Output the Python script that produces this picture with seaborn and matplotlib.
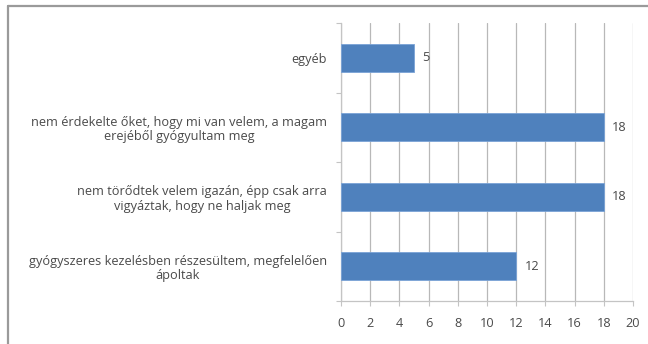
import matplotlib
matplotlib.use("Agg")
import matplotlib.pyplot as plt
from matplotlib.lines import Line2D
import seaborn as sns
import pandas as pd

categories = [
    "egyéb",
    "nem érdekelte őket, hogy mi van velem, a magam\nerejéből gyógyultam meg",
    "nem törődtek velem igazán, épp csak arra\nvigyáztak, hogy ne haljak meg",
    "gyógyszeres kezelésben részesültem, megfelelően\nápoltak",
]
values = [5, 18, 18, 12]
x_ticks = [0, 2, 4, 6, 8, 10, 12, 14, 16, 18, 20]

df = pd.DataFrame({"kategoria": categories, "ertek": values})

sns.set_theme(style="white")
plt.rcParams["font.family"] = ["Open Sans", "DejaVu Sans"]

text_color = "#4a4a4a"
grid_color = "#b8b8b8"
axis_color = "#c4c4c4"
fs = 9.2

fig = plt.figure(figsize=(6.48, 3.44), dpi=100)
ax = fig.add_axes([341 / 648, 1 - 301 / 344, (633 - 341) / 648, (301 - 23) / 344])

sns.barplot(data=df, x="ertek", y="kategoria", orient="h", color="#4f81bd",
            saturation=1, width=0.41, edgecolor="#7aa3d6", linewidth=0.6,
            ax=ax, zorder=3)

ax.set_xlim(0, 20)
ax.set_ylim(3.5, -0.5)
ax.set_xticks(x_ticks)
ax.set_xticklabels([str(t) for t in x_ticks])
ax.set_xlabel("")
ax.set_ylabel("")

ax.grid(axis="x", color=grid_color, linewidth=0.9, zorder=0)
ax.grid(axis="y", visible=False)
ax.set_axisbelow(True)

for side in ("top", "right"):
    ax.spines[side].set_visible(False)
for side in ("left", "bottom"):
    ax.spines[side].set_color(axis_color)
    ax.spines[side].set_linewidth(0.9)

# category ticks sit between the bars, labels stay centred on the bars
ax.set_yticks([-0.5, 0.5, 1.5, 2.5, 3.5], minor=True)
ax.tick_params(axis="y", which="minor", length=3.5, width=0.8, color=axis_color, left=True)
ax.tick_params(axis="y", which="major", length=0, pad=10, labelsize=fs, labelcolor=text_color)
ax.tick_params(axis="x", which="major", length=3.5, width=0.8, color=axis_color,
               bottom=True, pad=8, labelsize=fs, labelcolor=text_color)
for lbl in ax.get_yticklabels():
    lbl.set_multialignment("center")
    lbl.set_linespacing(1.15)

for i, v in enumerate(values):
    ax.annotate(str(v), xy=(v, i), xytext=(6, 0), textcoords="offset points",
                ha="left", va="center", fontsize=fs, color=text_color)

# chart frame
fig.add_artist(Line2D([7.5 / 648, 1.0], [1 - 5.5 / 344, 1 - 5.5 / 344],
                      transform=fig.transFigure, color="#9a9a9a", linewidth=1.6))
fig.add_artist(Line2D([7.5 / 648, 7.5 / 648], [0.0, 1 - 5.5 / 344],
                      transform=fig.transFigure, color="#9a9a9a", linewidth=1.6))

fig.savefig("out.png", dpi=100, facecolor="white")
